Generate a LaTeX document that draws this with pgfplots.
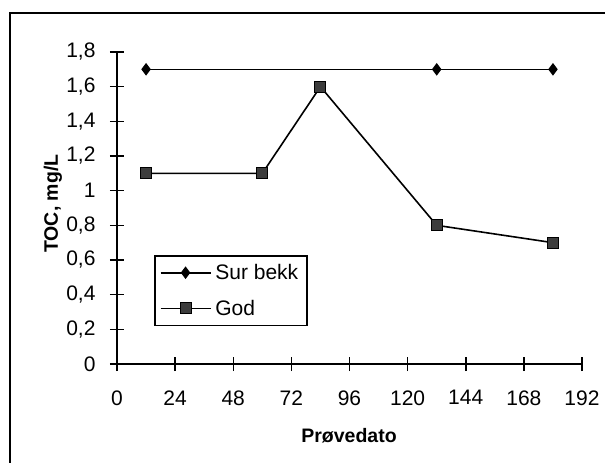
\documentclass[border=0pt]{standalone}
\usepackage{fontspec}
\setmainfont{Liberation Sans}
\usepackage{pgfplots}
\pgfplotsset{compat=1.18}
\definecolor{sqfill}{HTML}{3C3C3C}
\begin{document}
\begin{tikzpicture}[x=1pt,y=1pt]
\path[use as bounding box] (0,0) rectangle (605,463);
\fill[white] (0,0) rectangle (605,463);
\draw[line width=1.6pt] (10,450) rectangle (640,-30);
\begin{axis}[
  at={(117pt,99pt)}, anchor=south west,
  scale only axis, width=465pt, height=312pt,
  xmin=0, xmax=192, ymin=0, ymax=1.8,
  axis x line=bottom, axis y line=left,
  axis line style={-, line width=1.5pt},
  xtick={0,24,48,72,96,120,144,168,192},
  xticklabels={0,24,48,72,96,120,144,168,192},
  ytick={0,0.2,0.4,0.6,0.8,1,1.2,1.4,1.6,1.8},
  yticklabels={0,{0,2},{0,4},{0,6},{0,8},1,{1,2},{1,4},{1,6},{1,8}},
  /pgf/number format/assume math mode=true,
  tick align=center, major tick length=14pt,
  tick style={line width=1.5pt, black},
  ticklabel style={font=\fontsize{21}{25}\selectfont},
  yticklabel style={xshift=-11pt},
  xticklabel style={yshift=-16pt},
  xlabel={Prøvedato}, ylabel={TOC, mg/L},
  label style={font=\bfseries\fontsize{19.5}{23}\selectfont},
  xlabel style={at={(axis description cs:0.499,-0.231)}, anchor=center},
  ylabel style={at={(axis description cs:-0.138,0.514)}, anchor=center},
  legend style={at={(axis description cs:0.0796,0.349)}, anchor=north west,
    draw=black, line width=1.5pt, font=\fontsize{21}{21}\selectfont,
    row sep=11pt, inner xsep=5pt, inner ysep=4.5pt,
    nodes={inner sep=4pt}},
  legend cell align=left,
  legend image code/.code={\draw[mark repeat=2,mark phase=2,#1] plot coordinates {(0pt,0pt)(25pt,0pt)(50pt,0pt)};},
]
\addplot[black, line width=1.6pt, mark=diamond*, mark size=5.5pt, mark options={fill=black, solid, line width=1pt}]
  coordinates {(12,1.7) (132,1.7) (180,1.7)};
\addlegendentry{Sur bekk}
\addplot[black, line width=1.6pt, mark=square*, mark size=5.5pt, mark options={fill=sqfill, draw=black, solid, line width=1pt}]
  coordinates {(12,1.1) (60,1.1) (84,1.6) (132,0.8) (180,0.7)};
\addlegendentry{God}
\end{axis}
\end{tikzpicture}
\end{document}
